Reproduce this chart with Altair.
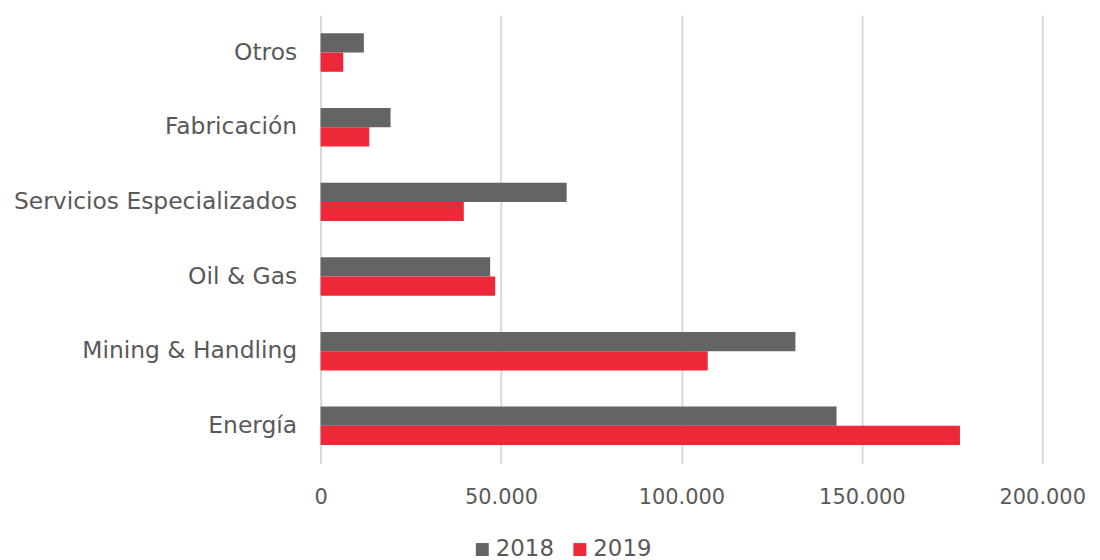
import altair as alt
import pandas as pd

categories = ["Otros", "Fabricación", "Servicios Especializados", "Oil & Gas", "Mining & Handling", "Energía"]
values_2018 = [12000, 19400, 68200, 47000, 131600, 143000]
values_2019 = [6300, 13500, 39700, 48400, 107300, 177200]
years = ["2018", "2019"]
colors = ["#636466", "#ED2939"]
x_ticks = [0, 50000, 100000, 150000, 200000]

rows = []
for c, a, b in zip(categories, values_2018, values_2019):
    rows.append({"categoria": c, "anio": "2018", "valor": a})
    rows.append({"categoria": c, "anio": "2019", "valor": b})
df = pd.DataFrame(rows)

FONT = "DejaVu Sans"
TXT = "#595959"

chart = alt.Chart(df).mark_bar().encode(
    y=alt.Y("categoria:N", sort=categories,
            scale=alt.Scale(paddingInner=0.485, paddingOuter=0.2425),
            axis=alt.Axis(title=None, domain=False, ticks=False, grid=False,
                          labelFont=FONT, labelFontSize=23.5, labelColor=TXT,
                          labelPadding=24, labelLimit=0)),
    yOffset=alt.YOffset("anio:N", sort=years),
    x=alt.X("valor:Q", scale=alt.Scale(domain=[0, 200000], nice=False),
            axis=alt.Axis(title=None, domain=False, ticks=False, grid=True,
                          gridColor="#d9d9d9", gridWidth=2, values=x_ticks,
                          labelExpr="replace(format(datum.value, ','), ',', '.')",
                          labelFont=FONT, labelFontSize=21, labelColor=TXT,
                          labelPadding=24, labelFlush=False, labelAlign="center")),
    color=alt.Color("anio:N", scale=alt.Scale(domain=years, range=colors),
                    legend=alt.Legend(title=None, orient="none", direction="horizontal",
                                      legendX=151, legendY=525,
                                      symbolType="square", symbolSize=169,
                                      symbolStrokeWidth=0, symbolOpacity=1,
                                      labelFont=FONT, labelFontSize=23, labelColor=TXT,
                                      labelOffset=2, columnPadding=14)),
).properties(
    width=725, height=450,
    padding={"left": 314, "top": 6, "right": 50, "bottom": 96},
    autosize=alt.AutoSizeParams(type="none"),
).configure_view(stroke=None)

chart.save("out.html", embed_options={"renderer": "svg", "actions": False})
